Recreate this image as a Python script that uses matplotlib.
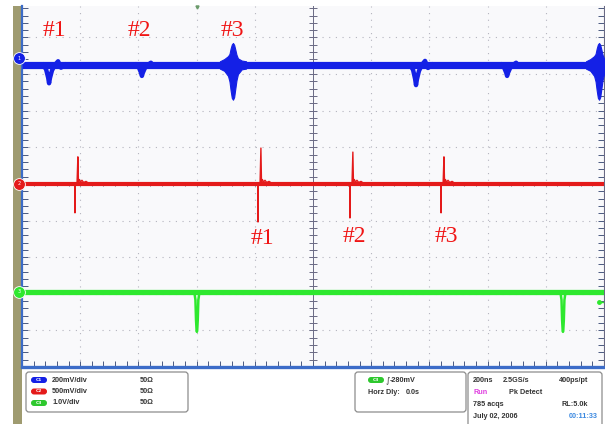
import numpy as np
import matplotlib
matplotlib.use('Agg')
import matplotlib.pyplot as plt
from matplotlib.patches import FancyBboxPatch, Rectangle

# time axis in ns (200 ns/div), vertical axis in divisions
t_lim = [0, 2000]
y_lim = [-5, 4.86]

# channel ground levels (div) and trace colours
ch_level = [3.25, 0.0, -2.95]
ch_marker = [3.43, 0.0, -2.95]
ch_color = ['#1420E6', '#E41A1A', '#2EE82E']
ch_width = [5.2, 3.0, 3.8]

# ch1 (blue): dips and bursts
blue_dip_t = [93, 412, 1354, 1667]
blue_dip_depth = [0.50, 0.30, 0.55, 0.30]
dip_shape_t = [-20, -10, -3, 0, 3, 10, 20, 31, 41, 55]
dip_shape_a = [0, 0.25, 0.7, 1.0, 0.72, 0.3, 0, -0.2, 0.15, 0]
blue_burst_t = [725, 1983]
burst_shape_t = [-45, -30, -17, -12, -8, -4, 0, 4, 8, 12, 17, 30, 45]
burst_up = [0.10, 0.16, 0.24, 0.30, 0.45, 0.56, 0.6, 0.55, 0.42, 0.28, 0.18, 0.12, 0.10]
burst_lo = [-0.10, -0.16, -0.30, -0.45, -0.70, -0.90, -0.95, -0.88, -0.65, -0.42, -0.25, -0.12, -0.10]

# ch2 (red): spikes
red_t = [192, 821, 1137, 1450]
red_up = [0.74, 0.98, 0.87, 0.74]
red_dn = [0.79, 1.04, 0.93, 0.79]
spike_t = [-16, -11, -10, -9, -3, 0, 2, 5, 9, 14, 20, 28, 40]
ring = [0.06, 0.12, 0.05, 0.10, 0.04, 0.07, 0]

# ch3 (green): dips
green_t = [601, 1859]
green_depth = [1.09, 1.09]
gdip_t = [-9, -5, -3, -1, 0, 1, 3, 5, 9]
gdip_a = [0, 0.2, 0.7, 0.97, 1.0, 0.97, 0.7, 0.2, 0]
trig_level = -3.23

# labels
blue_lab_t = [113, 402, 722]
red_lab_t = [825, 1141, 1457]
lab_txt = ['#1', '#2', '#3']

fig = plt.figure(figsize=(6.05, 4.24), dpi=100)
fig.patch.set_facecolor('white')

bg = fig.add_axes([0, 0, 1, 1], zorder=0)
bg.set_xlim(0, 605)
bg.set_ylim(424, 0)
bg.axis('off')
bg.add_patch(Rectangle((13, 6), 9, 420, color='#9F9B70', lw=0))

ax = fig.add_axes([22 / 605, 57 / 424, 582 / 605, 361 / 424], zorder=2)
ax.set_facecolor('#F9F9FB')
ax.set_xlim(t_lim)
ax.set_ylim(y_lim)

# graticule
for xv in np.arange(200, 2000, 200):
    if xv != 1000:
        ax.axvline(xv, color='#B4B4BE', lw=0.8, ls=(0, (1.0, 5.0)), zorder=1)
for yv in np.arange(-4, 5, 1):
    if yv != 0:
        ax.axhline(yv, color='#B4B4BE', lw=0.8, ls=(0, (1.0, 5.0)), zorder=1)
ax.axvline(1000, color='#6A6A84', lw=0.7, zorder=1)
ax.axhline(0, color='#6A6A84', lw=0.7, zorder=1)
yt = np.arange(-5, 4.9, 0.2)
ax.plot(np.full(len(yt), 1000), yt, ls='none', marker='_', ms=6, mew=0.7, color='#6A6A84', zorder=1)
xt = np.arange(0, 2001, 40)
ax.plot(xt, np.zeros(len(xt)), ls='none', marker='|', ms=3, mew=0.7, color='#6A6A84', zorder=1)

ax.spines['top'].set_visible(False)
ax.spines['left'].set_color('#3C6CC8')
ax.spines['left'].set_linewidth(1.6)
ax.spines['bottom'].set_color('#3C6CC8')
ax.spines['bottom'].set_linewidth(2.4)
ax.spines['right'].set_color('#6A6A84')
ax.spines['right'].set_linewidth(0.8)
ax.set_xticks(np.arange(0, 2001, 200))
ax.set_xticks(xt, minor=True)
ax.set_yticks(np.arange(-5, 5, 1))
ax.set_yticks(yt, minor=True)
ax.tick_params(which='both', direction='in', length=4, width=0.7, color='#4A5A80',
               left=True, right=True, bottom=True, top=False,
               labelleft=False, labelbottom=False)

# ch1 trace
ax.plot(t_lim, [ch_level[0]] * 2, color=ch_color[0], lw=ch_width[0], solid_capstyle='butt', zorder=3)
for tc, d in zip(blue_dip_t, blue_dip_depth):
    ax.plot([tc + o for o in dip_shape_t], [ch_level[0] - d * a for a in dip_shape_a],
            color=ch_color[0], lw=3.2, zorder=3)
for tc in blue_burst_t:
    tt = [tc + o for o in burst_shape_t]
    ax.fill_between(tt, [ch_level[0] + u for u in burst_up], [ch_level[0] + l for l in burst_lo],
                    color=ch_color[0], lw=0.8, zorder=3)

# ch2 trace
ax.plot(t_lim, [ch_level[1]] * 2, color=ch_color[1], lw=ch_width[1], solid_capstyle='butt', zorder=3)
for tc, up, dn in zip(red_t, red_up, red_dn):
    yy = [0, 0, -dn, 0, 0, up] + ring
    ax.plot([tc + o for o in spike_t], [ch_level[1] + v for v in yy], color=ch_color[1], lw=1.0, zorder=3)

# ch3 trace
ax.plot(t_lim, [ch_level[2]] * 2, color=ch_color[2], lw=ch_width[2], solid_capstyle='butt', zorder=3)
for tc, d in zip(green_t, green_depth):
    ax.plot([tc + o for o in gdip_t], [ch_level[2] - d * a for a in gdip_a], color=ch_color[2], lw=1.8, zorder=3)
ax.plot([1983, 2000], [trig_level, trig_level], color=ch_color[2], lw=1.0, zorder=3)
ax.plot([1983], [trig_level], 'o', ms=2.5, color=ch_color[2], zorder=3)
ax.plot([green_t[0]], [y_lim[1] - 0.04], marker='v', ms=2.2, color='#6A9A6A', clip_on=False, zorder=4)

# channel ground markers
for lv, c, n in zip(ch_marker, ch_color, ['1', '2', '3']):
    ax.plot([-10], [lv], 'o', ms=8.5, color=c, mec='white', mew=0.6, clip_on=False, zorder=6)
    ax.text(-10, lv, n, color='white', fontsize=3.5, ha='center', va='center', clip_on=False, zorder=7)

# labels
for tt, s in zip(blue_lab_t, lab_txt):
    ax.text(tt, 4.18, s, color='#F01414', fontsize=17, family='Liberation Serif', ha='center', va='center', zorder=5)
for tt, s, yy in zip(red_lab_t, lab_txt, [-1.48, -1.43, -1.43]):
    ax.text(tt, yy, s, color='#F01414', fontsize=17, family='Liberation Serif', ha='center', va='center', zorder=5)

# info boxes below the screen
fg = fig.add_axes([0, 0, 1, 1], zorder=1)
fg.set_xlim(0, 605)
fg.set_ylim(424, 0)
fg.axis('off')
fg.patch.set_alpha(0)
for x0, y0, w, h in [(26, 372, 162, 40), (355, 372, 111, 40), (468, 372, 134, 60)]:
    fg.add_patch(FancyBboxPatch((x0, y0), w, h, boxstyle='round,pad=0,rounding_size=3',
                                fc='white', ec='#8C8C8C', lw=0.9))

tk = dict(fontsize=5.2, fontweight='bold', family='Liberation Sans', va='center', color='#333333')


def pill(x, y, c, s):
    fg.add_patch(FancyBboxPatch((x, y - 3), 16, 6, boxstyle='round,pad=0,rounding_size=3', fc=c, ec='none'))
    fg.text(x + 8, y, s, color='white', fontsize=3.2, fontweight='bold', ha='center', va='center')


rows = [('200mV/div', ch_color[0]), ('500mV/div', ch_color[1]), ('1.0V/div', '#2EC82E')]
for i, (s, c) in enumerate(rows):
    yy = 380 + i * 11.5
    pill(31, yy, c, 'C%d' % (i + 1))
    fg.text(52, yy, s, **tk)
    fg.text(140, yy, '50Ω', **tk)

pill(368, 380, '#2EC82E', 'C3')
fg.text(386, 380, '∫', fontsize=6, va='center', color='#333333')
fg.text(390, 380, '-280mV', **tk)
fg.text(368, 392, 'Horz Dly:', **tk)
fg.text(406, 392, '0.0s', **tk)

fg.text(473, 380, '200ns', **tk)
fg.text(503, 380, '2.5GS/s', **tk)
fg.text(588, 380, '400ps/pt', ha='right', **tk)
fg.text(473, 392, 'Run', **{**tk, 'color': '#E040E0'})
fg.text(509, 392, 'Pk Detect', **tk)
fg.text(473, 404, '785 acqs', **tk)
fg.text(588, 404, 'RL:5.0k', ha='right', **tk)
fg.text(473, 417, 'July 02, 2006', **tk)
fg.text(598, 417, '00:11:33', ha='right', **{**tk, 'color': '#3A88E0'})

fig.savefig('out.png', dpi=100, facecolor='white')
